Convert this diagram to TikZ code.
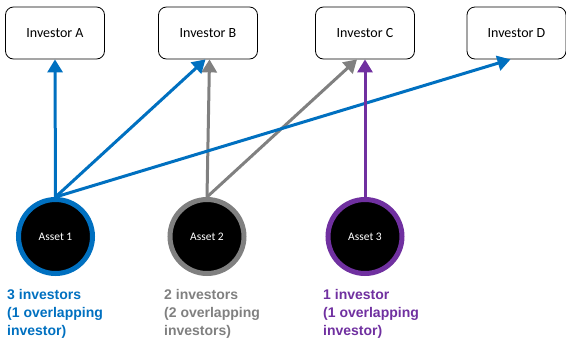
\documentclass[tikz,border=0pt]{standalone}
\usepackage{fontspec}
\setmainfont{Carlito}
\newfontfamily\arialfont{Liberation Sans}
\usetikzlibrary{arrows.meta,calc}
\definecolor{cblue}{HTML}{0070C0}
\definecolor{cgray}{HTML}{808080}
\definecolor{cpurple}{HTML}{7030A0}
\begin{document}
\begin{tikzpicture}[x=1pt,y=-1pt,
  invbox/.style={draw=black,line width=0.8pt,rounded corners=8pt,minimum width=99pt,minimum height=52pt,inner sep=0pt,font=\fontsize{14}{16}\selectfont},
  asset/.style={circle,fill=black,line width=5pt,minimum size=74pt,inner sep=0pt,text=white,font=\fontsize{11.5}{13}\selectfont},
  conn/.style={line width=3pt,-{Triangle[length=13pt,width=15pt]}},
  lbl/.style={anchor=north west,align=left,inner sep=0pt,font=\arialfont\bfseries\fontsize{14}{18}\selectfont}]
\useasboundingbox (0,0) rectangle (566,338);
\node[invbox] (invA) at (55,33) {Investor A};
\node[invbox] (invB) at (208,33) {Investor B};
\node[invbox] (invC) at (365,33) {Investor C};
\node[invbox] (invD) at (516.5,33) {Investor D};
\node[asset,draw=cblue] (a1) at (55.5,236.5) {Asset 1};
\node[asset,draw=cgray] (a2) at (207,236.5) {Asset 2};
\node[asset,draw=cpurple] (a3) at (365,236.5) {Asset 3};
\draw[conn,cblue] (a1.north) -- (invA.south);
\draw[conn,cgray] (a2.north) -- ($(invB.south)+(1.5,0)$);
\draw[conn,cblue] (a1.north) -- ($(invB.south)+(-2.5,0)$);
\draw[conn,cgray] (a2.north) -- ($(invC.south)+(-8,0)$);
\draw[conn,cblue] (a1.north) -- ($(invD.south)+(-6,0)$);
\draw[conn,cpurple] (a3.north) -- (invC.south);
\node[lbl,text=cblue] (l1) at (7,289) {3 investors\\(1 overlapping\\investor)};
\node[lbl,text=cgray] (l2) at (164,289) {2 investors\\(2 overlapping\\investors)};
\node[lbl,text=cpurple] (l3) at (323,289) {1 investor\\(1 overlapping\\investor)};
\end{tikzpicture}
\end{document}
